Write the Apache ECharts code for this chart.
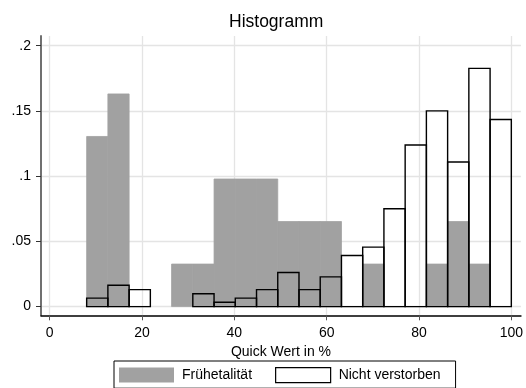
<!DOCTYPE html>
<html>
<head>
<meta charset="utf-8">
<script src="https://cdn.jsdelivr.net/npm/echarts@6/dist/echarts.min.js"></script>
<style>
  html, body { margin: 0; padding: 0; background: #fff; }
  #chart { width: 526px; height: 388px; }
</style>
</head>
<body>
<div id="chart"></div>
<script>
// Bin edges of the histogram (Quick value, %)
const binEdges = [8, 12.6, 17.2, 21.8, 26.4, 31, 35.6, 40.2, 44.8, 49.4, 54,
                  58.6, 63.2, 67.8, 72.4, 77, 81.6, 86.2, 90.8, 95.4, 100];

// Density per bin, early lethality group
const fruehletalitaet = [0.1304, 0.1630, 0, 0, 0.0326, 0.0326, 0.0978, 0.0978, 0.0978, 0.0652,
                         0.0652, 0.0652, 0, 0.0326, 0, 0, 0.0326, 0.0652, 0.0326, 0];

// Density per bin, survivors
const nichtVerstorben = [0.0065, 0.0163, 0.0130, 0, 0, 0.0098, 0.0033, 0.0065, 0.0130, 0.0261,
                         0.0130, 0.0228, 0.0391, 0.0456, 0.0750, 0.1239, 0.1500, 0.1108, 0.1826, 0.1434];

const seriesNames = ['Frühetalität', 'Nicht verstorben'];
const xTicks = [0, 20, 40, 60, 80, 100];
const yTicks = [0, 0.05, 0.1, 0.15, 0.2];
const yTickLabels = ['0', '.05', '.1', '.15', '.2'];

const FONT = "'Liberation Sans', Arial, Helvetica, sans-serif";
const GRAY = '#a1a1a1';
const GRID_COLOR = '#e4e4e4';

function toBins(values) {
  return values.map((v, i) => [binEdges[i], binEdges[i + 1], v]);
}

function histRenderer(filled) {
  return function (params, api) {
    const h = api.value(2);
    if (!(h > 0)) return null;
    const p0 = api.coord([api.value(0), h]);
    const p1 = api.coord([api.value(1), 0]);
    return {
      type: 'rect',
      shape: { x: p0[0], y: p0[1], width: p1[0] - p0[0], height: p1[1] - p0[1] },
      style: filled
        // a thin same-colour stroke closes the seams between neighbouring bins
        ? { fill: GRAY, stroke: GRAY, lineWidth: 0.8 }
        : { fill: 'rgba(0,0,0,0)', stroke: '#000', lineWidth: 1.4 }
    };
  };
}

const chart = echarts.init(document.getElementById('chart'), null, { renderer: 'canvas' });

chart.setOption({
  animation: false,
  backgroundColor: '#fff',
  textStyle: { fontFamily: FONT },
  title: {
    text: 'Histogramm',
    left: 229,
    top: 13,
    padding: 0,
    textStyle: { fontFamily: FONT, fontSize: 17.5, fontWeight: 'normal', color: '#000' }
  },
  grid: { left: 41, right: 1, top: 36, bottom: 72.7, containLabel: false },
  xAxis: {
    type: 'value',
    min: -1.89,
    max: 102.08,
    name: 'Quick Wert in %',
    nameLocation: 'middle',
    nameGap: 24,
    nameTextStyle: { fontFamily: FONT, fontSize: 14, color: '#000' },
    axisLine: { show: true, onZero: false, lineStyle: { color: '#000', width: 1.5 } },
    axisTick: { show: true, length: 5, customValues: xTicks, lineStyle: { color: '#555', width: 1 } },
    axisLabel: { customValues: xTicks, margin: 11, fontFamily: FONT, fontSize: 14, color: '#000' },
    splitLine: { show: true, lineStyle: { color: GRID_COLOR, width: 1.3 } }
  },
  yAxis: {
    type: 'value',
    min: -0.00668,
    max: 0.2074,
    axisLine: { show: true, onZero: false, lineStyle: { color: '#707070', width: 2 } },
    axisTick: { show: true, length: 5, customValues: yTicks, lineStyle: { color: '#333', width: 1 } },
    axisLabel: {
      customValues: yTicks,
      margin: 10,
      fontFamily: FONT,
      fontSize: 14,
      color: '#000',
      formatter: function (v) {
        const i = yTicks.findIndex(t => Math.abs(t - v) < 1e-9);
        return i >= 0 ? yTickLabels[i] : '';
      }
    },
    splitLine: { show: true, lineStyle: { color: GRID_COLOR, width: 1.3 } }
  },
  legend: {
    left: 114,
    top: 361,
    orient: 'horizontal',
    padding: [6, 15, 5, 5],
    borderColor: '#000',
    borderWidth: 1,
    itemWidth: 55,
    itemHeight: 15,
    itemGap: 23,
    selectedMode: false,
    textStyle: { fontFamily: FONT, fontSize: 14, color: '#000', padding: [0, 0, 0, 3] },
    data: [
      { name: seriesNames[0], icon: 'rect', itemStyle: { color: GRAY, borderWidth: 0 } },
      { name: seriesNames[1], icon: 'rect', itemStyle: { color: '#fff', borderColor: '#000', borderWidth: 1.2 } }
    ]
  },
  series: [
    {
      name: seriesNames[0],
      type: 'custom',
      z: 2,
      itemStyle: { color: GRAY },
      encode: { x: [0, 1], y: 2 },
      renderItem: histRenderer(true),
      data: toBins(fruehletalitaet)
    },
    {
      name: seriesNames[1],
      type: 'custom',
      z: 3,
      itemStyle: { color: '#fff', borderColor: '#000' },
      encode: { x: [0, 1], y: 2 },
      renderItem: histRenderer(false),
      data: toBins(nichtVerstorben)
    }
  ]
});
</script>
</body>
</html>
